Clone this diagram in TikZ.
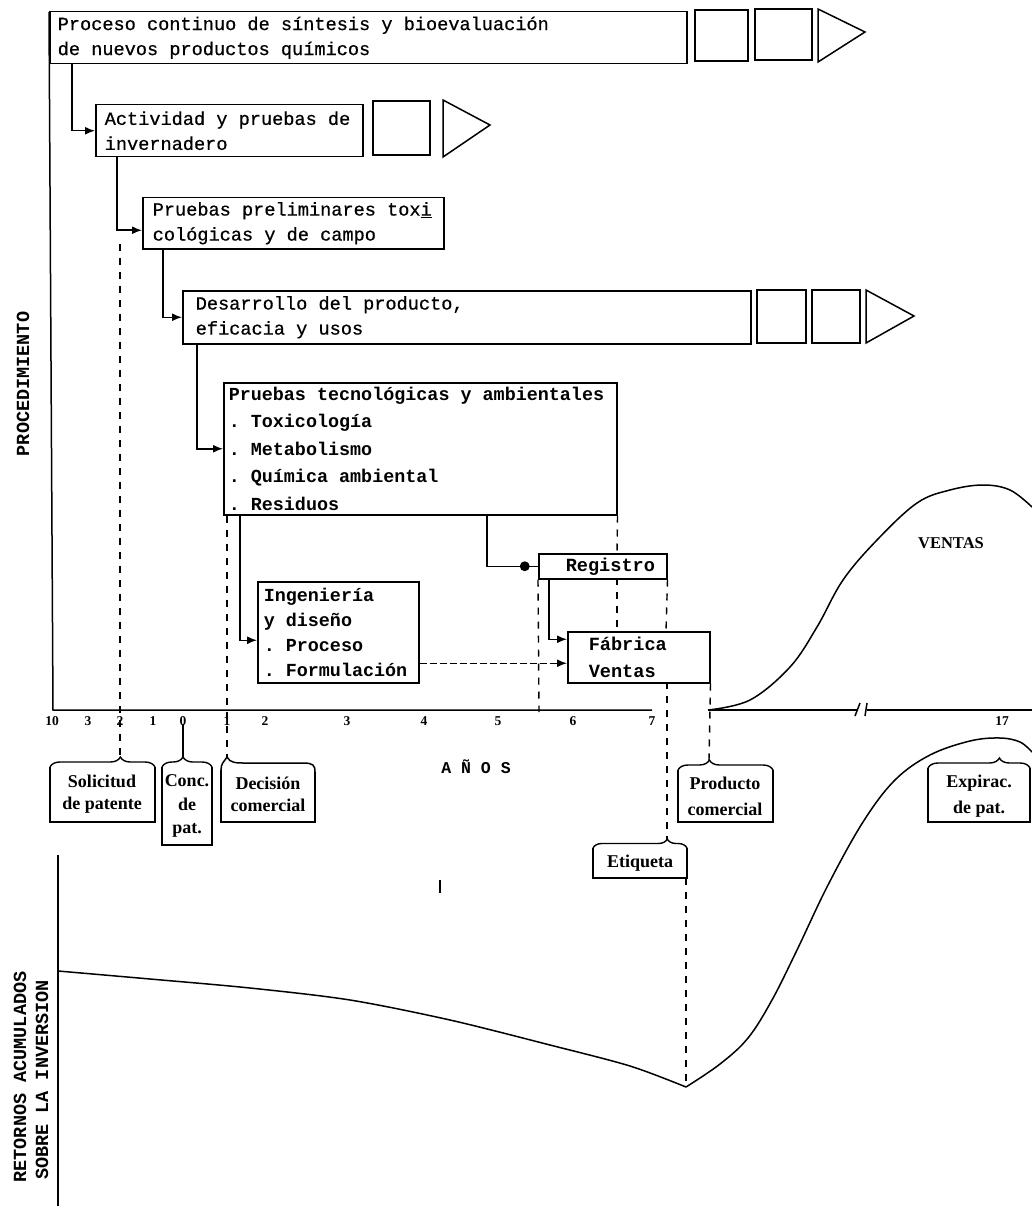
\documentclass[tikz,border=0pt]{standalone}
\usepackage{fontspec}
\setmainfont{Liberation Serif}
\newfontfamily\monof[FakeBold=0.6]{Liberation Mono}
\newfontfamily\monob{Liberation Mono Bold}
\newfontfamily\labf{Liberation Serif}
\newcommand\fixsp{\fontdimen2\font=0.6em\fontdimen3\font=0pt\fontdimen4\font=0pt\spaceskip=0.6em\xspaceskip=0.6em\relax}
\usetikzlibrary{arrows.meta,decorations.pathreplacing}
\begin{document}
\begin{tikzpicture}[x=1pt,y=-1pt,
  box/.style={draw, line width=1.5pt, anchor=north west, inner ysep=0pt, align=left,
    font=\monof\fontsize{18.6}{25}\selectfont\fixsp},
  bbox/.style={box, font=\monob\fontsize{18.6}{27}\selectfont\fixsp},
  conn/.style={line width=1.5pt, -{Latex[length=10pt,width=8pt]}},
  dline/.style={line width=1.4pt, dash pattern=on 7pt off 7pt},
  shp/.style={line width=1.5pt},
  lab/.style={font=\labf\bfseries\fontsize{18}{22}\selectfont, align=center, inner sep=0pt},
  tk/.style={font=\labf\bfseries\fontsize{13.5}{13.5}\selectfont, inner sep=0pt},
  axl/.style={font=\monob\fontsize{18.5}{22}\selectfont\fixsp, rotate=90, inner sep=0pt},
  brc/.style={line width=1.4pt, decorate}
]
\fill[white] (0,0) rectangle (1032,1206);
\useasboundingbox (0,0) rectangle (1032,1206);

% axes
\draw[shp] (49,12) -- (53,710) -- (652,710);
\draw[shp] (708,710) -- (857,710);
\draw[shp] (867,710) -- (1032,710);
\draw[shp] (855,716) -- (860,703);
\draw[shp] (865,716) -- (867,703);
\draw[shp] (58,855) -- (58,1206);

% main boxes
\node[box, text width=621pt, inner xsep=8pt, minimum height=52pt] (b1) at (49,11)
  {\fixsp Proceso continuo de síntesis y bioevaluación\\de nuevos productos químicos};
\node[box, text width=249pt, inner xsep=9pt, minimum height=52pt] (b2) at (95,104)
  {\fixsp Actividad y pruebas de\\invernadero};
\node[box, text width=281pt, inner xsep=10pt, minimum height=51pt] (b3) at (142,197)
  {\fixsp Pruebas preliminares tox\underline{i}\\cológicas y de campo};
\node[box, text width=542pt, inner xsep=13pt, minimum height=53pt] (b4) at (182,290)
  {\fixsp Desarrollo del producto,\\eficacia y usos};
\node[bbox, text width=383pt, inner xsep=5pt, minimum height=132pt,
  font=\monob\fontsize{18.4}{27.5}\selectfont] (b5) at (223,382)
  {\fixsp Pruebas tecnológicas y ambientales\\. Toxicología\\. Metabolismo\\. Química ambiental\\. Residuos};
\node[bbox, text width=120pt, inner xsep=4pt, minimum height=25pt] (reg) at (538,553)
  {\hspace*{23pt}Registro};
\node[bbox, text width=100pt, inner xsep=21pt, minimum height=51pt] (fab) at (567,631)
  {Fábrica\\Ventas};
\node[bbox, text width=149pt, inner xsep=6pt, minimum height=101pt,
  font=\monob\fontsize{18.4}{25}\selectfont] (ing) at (257,581)
  {\fixsp Ingeniería\\y diseño\\. Proceso\\. Formulación};

% squares and triangles
\draw[shp] (695,10) rectangle (748,61);
\draw[shp] (755,9) rectangle (812,60);
\draw[shp] (818,9) -- (865,32) -- (818,62) -- cycle;
\draw[shp] (373,101) rectangle (430,155);
\draw[shp] (443,100) -- (490,125) -- (443,157) -- cycle;
\draw[shp] (757,290) rectangle (806,343);
\draw[shp] (812,290) rectangle (860,343);
\draw[shp] (866,290) -- (914,316) -- (866,343) -- cycle;

% connectors
\draw[conn] ([xshift=23pt]b1.south west) |- (b2.west);
\draw[conn] ([xshift=22pt]b2.south west) |- ([yshift=-7pt]b3.west);
\draw[conn] ([xshift=21pt]b3.south west) |- (b4.west);
\draw[conn] ([xshift=15pt]b4.south west) |- (b5.west);
\draw[conn] ([xshift=17pt]b5.south west) |- ([yshift=-8pt]ing.west);
\draw[shp] ([xshift=264pt]b5.south west) |- (reg.west)
  node[pos=0.87, circle, fill, inner sep=3.5pt] (regdot) {};
\draw[conn] ([xshift=11pt]reg.south west) |- ([yshift=18pt]fab.west);
\draw[conn, dash pattern=on 7pt off 3pt] ([yshift=-31pt]ing.east) -- ([yshift=-31pt]ing.east -| fab.west);

% brace tip coordinates
\coordinate (tsol) at (120,757);
\coordinate (tconc) at (183,757);
\coordinate (tdec) at (227,757);
\coordinate (tprod) at (709,760);
\coordinate (tetq) at (667,839);
\coordinate (tmin) at (686,1087);

% dashed guide lines
\draw[dline] (120,244) -- (tsol);
\draw[shp] (183,724) -- (tconc);
\draw[dline] ([xshift=4pt]b5.south west) -- (tdec);
\draw[dline] (reg.south west) -- (539,712);
\draw[dline] (b5.south east) -- (617,553);
\draw[dline] (617,578) -- (617,631);
\draw[dline] (reg.south east) -- (666,631);
\draw[dline] (667,682) -- (tetq);
\draw[dline] (fab.south east) -- (tprod);
\draw[dline] (686,878) -- (tmin);

% tick labels
\node[tk] (t10) at (52,721) {10};
\node[tk] (tm3) at (88,721) {3};
\node[tk] (tm2) at (120,721) {2};
\node[tk] (tm1) at (153,721) {1};
\node[tk] (t0) at (183,721) {0};
\node[tk] (t1) at (227,721) {1};
\node[tk] (t2) at (265,721) {2};
\node[tk] (t3) at (347,721) {3};
\node[tk] (t4) at (424,721) {4};
\node[tk] (t5) at (498,721) {5};
\node[tk] (t6) at (573,721) {6};
\node[tk] (t7) at (652,721) {7};
\node[tk] (t17) at (1002,721) {17};

\node[font=\monob\fontsize{16.5}{16.5}\selectfont\fixsp, inner sep=0pt] (anos) at (476,767) {A Ñ O S};

% label boxes with braces
\draw[shp] (50,767) -- (50,822) -- (155,822) -- (155,767);
\draw[brc, decoration={brace, amplitude=10pt, aspect=0.67}] (50,767) -- (155,767);
\node[lab] (sol) at (102,794) {Solicitud\\de patente};

\draw[shp] (162,767) -- (162,845) -- (212,845) -- (212,767);
\draw[brc, decoration={brace, amplitude=10pt, aspect=0.42}] (162,767) -- (212,767);
\node[lab, font=\labf\bfseries\fontsize{18}{23.5}\selectfont] (conc) at (187,806) {Conc.\\de\\pat.};

\draw[shp] (221,770) -- (221,822) -- (315,822) -- (315,772);
\draw[shp] (221,770) .. controls (221,763) and (224,762) .. (tdec)
  .. controls (230,763) and (236,763) .. (245,763) -- (303,763)
  .. controls (313,763) and (315,765) .. (315,772);
\node[lab] (dec) at (268,794) {Decisión\\comercial};

\draw[shp] (678,770) -- (678,822) -- (773,822) -- (773,770);
\draw[brc, decoration={brace, amplitude=10pt, aspect=0.33}] (678,770) -- (773,770);
\node[lab, font=\labf\bfseries\fontsize{18}{26}\selectfont] (prod) at (725,796) {Producto\\comercial};

\draw[shp] (593,848) -- (593,878) -- (687,878) -- (687,848);
\draw[brc, decoration={brace, amplitude=9pt, aspect=0.79}] (593,848) -- (687,848);
\node[lab] (etq) at (640,863) {Etiqueta};

\draw[shp] (928,768) -- (928,822) -- (1030,822) -- (1030,768);
\draw[brc, decoration={brace, amplitude=10pt, aspect=0.7}] (928,768) -- (1030,768);
\node[lab, font=\labf\bfseries\fontsize{18}{26}\selectfont] (exp) at (979,796) {Expirac.\\de pat.};

% curves
\draw[shp] plot[smooth, tension=0.6] coordinates {(708,710) (750,700) (790,667) (817,627) (843,580) (877,540) (917,503) (950,490) (983,485) (1010,490) (1032,507)};
\node[font=\labf\bfseries\fontsize{16.5}{16.5}\selectfont, inner sep=0pt] (ventas) at (951,543) {VENTAS};

\draw[shp] plot[smooth, tension=0.5] coordinates {(58,971) (150,979) (250,988) (350,1000) (450,1020) (550,1045) (630,1066) (tmin)};
\draw[shp] plot[smooth, tension=0.6] coordinates {(tmin) (720,1064) (748,1038) (772,1000) (797,950) (828,885) (863,822) (895,780) (930,755) (970,741) (1000,738) (1020,742) (1032,752)};

\draw[shp] (440,880) -- (440,893);

% axis titles
\node[axl] (proc) at (23,384) {PROCEDIMIENTO};
\node[axl] (ret1) at (20,1077) {RETORNOS ACUMULADOS};
\node[axl] (ret2) at (42,1080) {SOBRE LA INVERSION};
\end{tikzpicture}
\end{document}
